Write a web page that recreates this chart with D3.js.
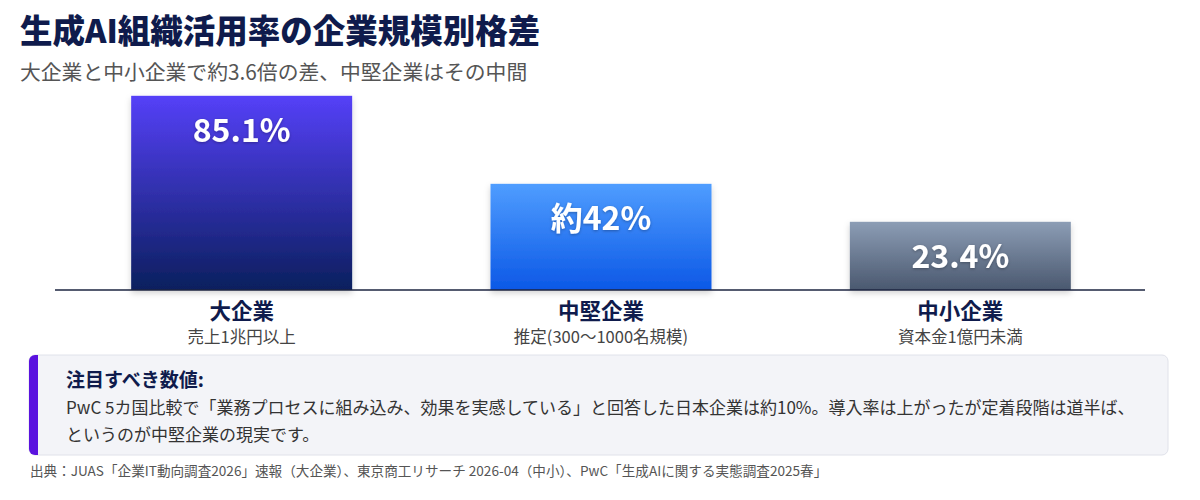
<!DOCTYPE html>
<html>
<head>
  <meta charset="utf-8">
  <title>生成AI組織活用率の企業規模別格差</title>
  <style>
    body { margin: 0; background: #fff; }
    svg { display: block; font-family: "Noto Sans CJK JP", "Noto Sans", sans-serif; }
  </style>
</head>
<body>
  <svg width="1200" height="500"></svg>
  <script src="https://cdn.jsdelivr.net/npm/d3@7"></script>
  <script>

  // data
  var categories = ["大企業", "中堅企業", "中小企業"];
  var subLabels = ["売上1兆円以上", "推定(300〜1000名規模)", "資本金1億円未満"];
  var values = [85.1, 42, 23.4];
  var valueLabels = ["85.1%", "約42%", "23.4%"];
  var gradTop = ["#5540f8", "#4f9dff", "#8c9db5"];
  var gradBottom = ["#0b1f5e", "#0c58e6", "#4a586f"];

  var svg = d3.select("svg");
  var navy = "#0f1b4c";

  // title
  svg.append("text").attr("x", 20).attr("y", 43)
    .attr("font-size", 32.5).attr("font-weight", 900).attr("fill", navy)
    .text("生成AI組織活用率の企業規模別格差");
  svg.append("text").attr("x", 20).attr("y", 80)
    .attr("font-size", 20.8).attr("fill", "#555")
    .text("大企業と中小企業で約3.6倍の差、中堅企業はその中間");

  // scales
  var baseY = 290;
  var x = d3.scaleBand().domain(categories).range([62, 1140])
    .paddingInner(0.385).paddingOuter(0.1925);
  var y = d3.scaleLinear().domain([-10, 90]).range([baseY, baseY - 204.2]);

  var defs = svg.append("defs");
  categories.forEach(function(c, i) {
    var g = defs.append("linearGradient").attr("id", "g" + i)
      .attr("x1", 0).attr("y1", 0).attr("x2", 0).attr("y2", 1);
    g.append("stop").attr("offset", "0%").attr("stop-color", gradTop[i]);
    g.append("stop").attr("offset", "100%").attr("stop-color", gradBottom[i]);
  });
  var sh = defs.append("filter").attr("id", "shadow")
    .attr("x", "-10%").attr("y", "-10%").attr("width", "120%").attr("height", "130%");
  sh.append("feDropShadow").attr("dx", 0).attr("dy", 3).attr("stdDeviation", 3)
    .attr("flood-color", "#000").attr("flood-opacity", 0.18);
  var ts = defs.append("filter").attr("id", "tshadow");
  ts.append("feDropShadow").attr("dx", 0).attr("dy", 1).attr("stdDeviation", 1.5)
    .attr("flood-color", "#000").attr("flood-opacity", 0.3);

  var bars = svg.selectAll(".bar").data(values).enter().append("g").attr("class", "bar");

  bars.append("rect")
    .attr("x", function(d, i) { return x(categories[i]); })
    .attr("y", function(d) { return y(d); })
    .attr("width", x.bandwidth())
    .attr("height", function(d) { return baseY - y(d); })
    .attr("fill", function(d, i) { return "url(#g" + i + ")"; })
    .attr("filter", "url(#shadow)");

  bars.append("text")
    .attr("x", function(d, i) { return x(categories[i]) + x.bandwidth() / 2; })
    .attr("y", function(d) { return y(d) + 46; })
    .attr("text-anchor", "middle")
    .attr("font-size", 32).attr("font-weight", 700).attr("fill", "#fff")
    .attr("filter", "url(#tshadow)")
    .text(function(d, i) { return valueLabels[i]; });

  // baseline
  svg.append("line").attr("x1", 55).attr("x2", 1145)
    .attr("y1", baseY).attr("y2", baseY)
    .attr("stroke", "#1c2440").attr("stroke-width", 1.5);

  bars.append("text")
    .attr("x", function(d, i) { return x(categories[i]) + x.bandwidth() / 2; })
    .attr("y", 319)
    .attr("text-anchor", "middle")
    .attr("font-size", 21.5).attr("font-weight", 700).attr("fill", navy)
    .text(function(d, i) { return categories[i]; });

  bars.append("text")
    .attr("x", function(d, i) { return x(categories[i]) + x.bandwidth() / 2; })
    .attr("y", 343)
    .attr("text-anchor", "middle")
    .attr("font-size", 16.5).attr("fill", "#444")
    .text(function(d, i) { return subLabels[i]; });

  // callout
  var box = svg.append("g");
  box.append("rect").attr("x", 29).attr("y", 355).attr("width", 1139).attr("height", 100)
    .attr("rx", 6).attr("fill", "#f3f4f8").attr("stroke", "#e0e2ea");
  box.append("path")
    .attr("d", "M35,355 h3 v100 h-3 a6,6 0 0 1 -6,-6 v-88 a6,6 0 0 1 6,-6 z")
    .attr("fill", "#5a12df");
  box.append("text").attr("x", 66).attr("y", 387)
    .attr("font-size", 19).attr("font-weight", 700).attr("fill", navy)
    .text("注目すべき数値:");
  box.append("text").attr("x", 66).attr("y", 414)
    .attr("font-size", 17).attr("fill", "#333")
    .text("PwC 5カ国比較で「業務プロセスに組み込み、効果を実感している」と回答した日本企業は約10%。導入率は上がったが定着段階は道半ば、");
  box.append("text").attr("x", 66).attr("y", 441)
    .attr("font-size", 17).attr("fill", "#333")
    .text("というのが中堅企業の現実です。");

  // source
  svg.append("text").attr("x", 30).attr("y", 476)
    .attr("font-size", 13.6).attr("fill", "#555")
    .text("出典：JUAS「企業IT動向調査2026」速報（大企業）、東京商工リサーチ 2026-04（中小）、PwC「生成AIに関する実態調査2025春」");
  </script>
</body>
</html>
